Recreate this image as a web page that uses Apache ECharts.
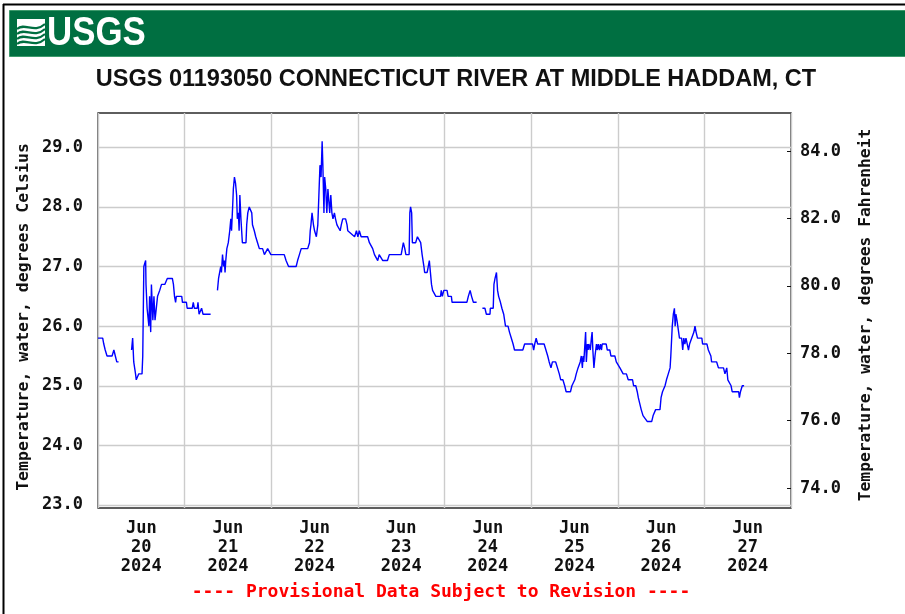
<!DOCTYPE html>
<html>
<head>
<meta charset="utf-8">
<script src="https://cdn.jsdelivr.net/npm/echarts@6/dist/echarts.min.js"></script>
<style>
html, body { margin: 0; padding: 0; background: #fff; }
#chart { width: 905px; height: 614px; }
</style>
</head>
<body>
<div id="chart"></div>
<script>
// hours since 2024-06-20 00:00, water temperature in deg C (null = gap in record)
const hours = [
  0.0, 1.3, 1.6, 2.0, 2.5, 3.0, 3.9, 4.4, 4.8, 5.2, 5.7, 7.0,
  9.3, 9.6, 9.9, 10.4, 10.6, 11.1, 11.3, 12.2, 12.4, 12.7, 13.2, 13.3, 13.6, 14.1, 14.3, 14.6, 14.8,
  15.2, 15.5, 15.8, 16.2, 16.5, 17.1, 17.6, 18.5, 19.2, 20.6, 20.9, 21.2, 21.5, 21.7, 23.2, 23.4,
  24.5, 24.7, 26.1, 26.4, 26.7, 27.1, 27.5, 27.7, 28.0, 28.7, 29.1, 31.2, 32.0,
  33.1, 33.4, 34.0, 34.2, 34.5, 34.8, 35.0, 35.2, 35.4, 35.7, 36.1, 36.3, 36.5, 36.8, 37.0, 37.3,
  37.5, 37.8, 38.1, 38.4, 38.6, 38.9, 39.1, 39.3, 39.6, 39.9, 40.0, 41.0, 41.2, 41.5, 41.9, 42.4,
  42.6, 42.8, 43.3, 43.7, 44.2, 44.7, 45.6, 46.1, 46.5, 47.0, 47.5, 47.9, 51.6, 52.1, 52.8, 54.9,
  55.3, 55.8, 56.3, 58.1, 58.6, 58.8, 59.0, 59.3, 59.7, 60.0, 60.5, 60.9, 61.2, 61.5, 61.8, 62.1,
  62.3, 62.6, 62.8, 63.1, 63.4, 63.7, 63.9, 64.2, 64.5, 64.8, 65.1, 65.5, 65.8, 66.2, 66.7, 67.1,
  67.4, 67.8, 68.6, 69.0, 69.2, 71.1, 71.6, 72.0, 72.4, 72.9, 74.7, 75.2, 75.7, 76.1, 76.6, 77.0,
  77.5, 77.9, 78.4, 78.9, 80.2, 80.7, 84.0, 84.3, 84.6, 85.0, 85.3, 86.2, 86.4, 86.6, 86.9, 87.1,
  88.0, 88.5, 88.9, 89.4, 89.8, 90.3, 90.5, 91.2, 91.5, 91.8, 92.1, 92.4, 92.7, 93.2, 93.6, 94.9,
  95.1, 95.4, 95.8, 96.2, 96.7, 97.0, 97.9, 98.1, 102.2, 102.6, 103.1, 103.5, 104.0, 104.9, 105.7,
  106.5, 107.2, 107.6, 108.6, 108.7, 109.5, 109.7, 110.0, 110.4, 110.7, 111.0, 111.5, 111.9, 112.4,
  112.9, 113.6, 114.0, 114.5, 115.0, 115.4, 117.7, 118.2, 120.4, 120.7, 121.0, 121.4, 121.8, 122.3,
  123.6, 124.1, 124.6, 125.0, 125.5, 125.9, 126.4, 126.8, 127.3, 127.8, 128.2, 128.8, 129.3, 129.7,
  130.9, 131.3, 131.8, 132.1, 132.5, 133.0, 133.2, 133.6, 133.9, 134.2, 134.4, 134.6, 134.8, 135.1,
  135.3, 135.6, 135.8, 136.0, 136.4, 136.7, 136.9, 137.1, 137.4, 137.7, 138.1, 138.3, 138.6, 138.9,
  139.2, 139.5, 139.7, 140.8, 141.1, 141.8, 142.1, 143.2, 143.6, 144.1, 144.6, 145.0, 145.5, 146.4,
  146.9, 148.1, 148.4, 149.0, 149.4, 149.7, 150.1, 150.5, 151.0, 151.5, 152.2, 153.4, 153.8, 154.5,
  155.7, 156.0, 156.4, 157.1, 157.5, 158.0, 158.5, 158.7, 159.1, 159.4, 159.7, 159.9, 160.1, 160.4,
  160.8, 161.1, 161.4, 161.7, 162.0, 162.3, 162.6, 162.9, 163.3, 163.6, 163.9, 164.2, 164.5, 164.8,
  165.1, 165.4, 165.7, 166.1, 166.6, 167.3, 167.5, 168.7, 169.1, 169.8, 170.0, 171.4, 171.9, 173.3,
  173.7, 174.2, 174.5, 174.9, 175.4, 175.7, 177.5, 177.7, 178.0, 178.5, 179.0
];
const tempC = [
  25.8, 25.8, 25.7, 25.6, 25.5, 25.5, 25.5, 25.6, 25.5, 25.4, 25.4, null,
  25.6, 25.8, 25.4, 25.2, 25.1, 25.1, 25.2, 25.2, 25.5, 27.0, 27.1, 26.7, 26.3, 26.0, 26.5, 25.9, 26.7,
  26.1, 26.5, 26.1, 26.1, 26.5, 26.6, 26.7, 26.7, 26.8, 26.8, 26.7, 26.5, 26.4, 26.5, 26.5, 26.4,
  26.4, 26.3, 26.3, 26.4, 26.3, 26.3, 26.3, 26.4, 26.2, 26.3, 26.2, 26.2, null,
  26.6, 26.8, 27.0, 26.9, 27.2, 27.0, 27.1, 26.9, 27.1, 27.3, 27.4, 27.4, 27.6, 27.8, 27.6, 28.0,
  28.3, 28.5, 28.4, 28.2, 27.8, 27.9, 27.6, 28.2, 27.8, 27.5, 27.4, 27.4, 27.7, 27.9, 28.0, 28.0,
  27.9, 27.7, 27.6, 27.5, 27.4, 27.3, 27.3, 27.2, 27.2, 27.3, 27.3, 27.2, 27.2, 27.1, 27.0, 27.0,
  27.1, 27.2, 27.3, 27.3, 27.4, 27.6, 27.7, 27.9, 27.7, 27.6, 27.5, 27.7, 28.2, 28.7, 28.5, 29.1,
  28.7, 27.9, 28.5, 28.3, 27.9, 28.3, 28.3, 27.9, 28.2, 27.9, 27.8, 27.9, 27.8, 27.7, 27.7, 27.6,
  27.7, 27.8, 27.8, 27.7, 27.6, 27.5, 27.6, 27.5, 27.6, 27.5, 27.5, 27.4, 27.4, 27.3, 27.2, 27.2,
  27.1, 27.2, 27.2, 27.1, 27.1, 27.2, 27.2, 27.3, 27.4, 27.3, 27.2, 27.2, 27.9, 28.0, 27.9, 27.4,
  27.4, 27.5, 27.5, 27.4, 27.2, 27.0, 26.9, 26.9, 27.0, 27.1, 26.9, 26.7, 26.6, 26.6, 26.5, 26.5,
  26.6, 26.5, 26.6, 26.6, 26.6, 26.5, 26.5, 26.4, 26.4, 26.5, 26.6, 26.5, 26.4, 26.4, null,
  26.3, 26.3, 26.2, 26.2, 26.3, 26.3, 26.7, 26.8, 26.9, 26.6, 26.5, 26.4, 26.3, 26.2,
  26.0, 26.0, 25.9, 25.8, 25.7, 25.6, 25.6, 25.7, 25.7, 25.6, 25.7, 25.8, 25.7, 25.7,
  25.7, 25.6, 25.5, 25.4, 25.3, 25.4, 25.4, 25.4, 25.3, 25.2, 25.1, 25.1, 25.0, 24.9,
  24.9, 25.0, 25.0, 25.1, 25.2, 25.3, 25.3, 25.4, 25.5, 25.3, 25.5, 25.4, 25.6, 25.9,
  25.4, 25.7, 25.6, 25.7, 25.6, 25.8, 25.9, 25.6, 25.3, 25.5, 25.7, 25.6, 25.7, 25.6,
  25.7, 25.6, 25.7, 25.7, 25.6, 25.6, 25.5, 25.5, 25.4, 25.4, 25.3, 25.3, 25.2, 25.2,
  25.1, 25.1, 25.0, 25.0, 24.9, 24.8, 24.7, 24.6, 24.5, 24.5, 24.4, 24.4, 24.5, 24.6,
  24.6, 24.8, 24.9, 25.0, 25.1, 25.2, 25.3, 25.5, 26.0, 26.2, 26.3, 26.0, 26.2, 26.1,
  26.1, 25.8, 25.8, 25.8, 25.6, 25.8, 25.7, 25.8, 25.8, 25.6, 25.7, 25.7, 25.8, 25.8,
  25.9, 26.0, 25.9, 25.8, 25.8, 25.8, 25.7, 25.7, 25.6, 25.5, 25.4, 25.4, 25.3, 25.3,
  25.2, 25.3, 25.1, 25.1, 25.0, 24.9, 24.9, 24.8, 24.9, 25.0, 25.0
];
const dayLabels = ['20', '21', '22', '23', '24', '25', '26', '27'];
const celsiusTicks = [23, 24, 25, 26, 27, 28, 29];
const fahrenheitTicks = [74, 76, 78, 80, 82, 84];

const HOUR = 3600000;
const DAY = 24 * HOUR;
const start = Date.UTC(2024, 5, 20);
const seriesData = hours.map((h, i) => [start + h * HOUR, tempC[i]]);
const labelNoons = dayLabels.map((d, i) => start + i * DAY + DAY / 2);

const mono = '"DejaVu Sans Mono", monospace';
const labelStyle = {
  fontFamily: mono,
  fontWeight: 'bold',
  fontSize: 17,
  color: '#111'
};
const gridLine = { color: '#cccccc', width: 1.4 };

const chart = echarts.init(document.getElementById('chart'));
chart.setOption({
  animation: false,
  backgroundColor: '#fff',
  grid: {
    left: 98,
    right: 114,
    top: 113,
    bottom: 106,
    containLabel: false,
    outerBoundsMode: 'none',
    show: true,
    borderColor: '#2a2a2a',
    borderWidth: 1.3
  },
  xAxis: {
    type: 'value',
    min: start,
    max: start + 8 * DAY,
    interval: DAY,
    axisLine: { show: false },
    axisTick: { show: false },
    splitLine: { show: true, lineStyle: gridLine },
    axisLabel: Object.assign({}, labelStyle, {
      customValues: labelNoons,
      lineHeight: 19,
      margin: 11,
      formatter: v => {
        const d = new Date(v);
        return 'Jun\n' + d.getUTCDate() + '\n' + d.getUTCFullYear();
      }
    })
  },
  yAxis: [
    {
      type: 'value',
      position: 'left',
      min: 22.95,
      max: 29.575,
      axisLine: { show: false },
      axisTick: { show: false, customValues: celsiusTicks },
      splitLine: { show: true, lineStyle: gridLine },
      axisLabel: Object.assign({}, labelStyle, {
        customValues: celsiusTicks,
        margin: 15,
        formatter: v => v.toFixed(1)
      })
    },
    {
      type: 'value',
      position: 'right',
      min: 73.41,
      max: 85.13,
      axisLine: { show: false },
      axisTick: {
        show: true,
        inside: true,
        length: 4,
        customValues: fahrenheitTicks,
        lineStyle: { color: '#111', width: 1 }
      },
      splitLine: { show: false },
      axisLabel: Object.assign({}, labelStyle, {
        customValues: fahrenheitTicks,
        margin: 9,
        formatter: v => v.toFixed(1)
      })
    }
  ],
  series: [
    {
      type: 'line',
      yAxisIndex: 0,
      data: seriesData,
      showSymbol: false,
      connectNulls: false,
      lineStyle: { color: '#0000ff', width: 1.4 },
      emphasis: { disabled: true }
    }
  ],
  graphic: [
    // page border (top and left)
    { type: 'line', shape: { x1: 3, y1: 4.5, x2: 905, y2: 4.5 }, style: { stroke: '#000', lineWidth: 2 } },
    { type: 'line', shape: { x1: 3.5, y1: 4, x2: 3.5, y2: 614 }, style: { stroke: '#000', lineWidth: 2 } },
    // green banner
    { type: 'rect', shape: { x: 9.5, y: 10.5, width: 900, height: 46 }, style: { fill: '#006f41', stroke: '#3d9a6c', lineWidth: 1 } },
    // logo mark
    { type: 'rect', shape: { x: 17, y: 19, width: 28, height: 27 }, style: { fill: '#fff' } },
    { type: 'bezierCurve', shape: { x1: 17, y1: 29, cpx1: 25, cpy1: 22, cpx2: 34, cpy2: 34, x2: 45, y2: 24 }, style: { stroke: '#006f41', lineWidth: 2.2, fill: null } },
    { type: 'bezierCurve', shape: { x1: 17, y1: 34, cpx1: 25, cpy1: 27, cpx2: 34, cpy2: 39, x2: 45, y2: 29 }, style: { stroke: '#006f41', lineWidth: 2.2, fill: null } },
    { type: 'bezierCurve', shape: { x1: 17, y1: 39, cpx1: 25, cpy1: 32, cpx2: 34, cpy2: 44, x2: 45, y2: 34 }, style: { stroke: '#006f41', lineWidth: 2.2, fill: null } },
    { type: 'bezierCurve', shape: { x1: 17, y1: 44, cpx1: 25, cpy1: 37, cpx2: 34, cpy2: 49, x2: 45, y2: 39 }, style: { stroke: '#006f41', lineWidth: 2.2, fill: null } },
    {
      type: 'text', x: 47, y: 34, scaleX: 0.85,
      style: { text: 'USGS', font: 'bold 41px "Liberation Sans", Arial, sans-serif', fill: '#fff', textAlign: 'left', textVerticalAlign: 'middle' }
    },
    // title
    {
      type: 'text', x: 456, y: 80,
      style: { text: 'USGS 01193050 CONNECTICUT RIVER AT MIDDLE HADDAM, CT', font: 'bold 23.5px "Liberation Sans", Arial, sans-serif', fill: '#111', textAlign: 'center', textVerticalAlign: 'middle' }
    },
    // axis names
    {
      type: 'text', x: 24, y: 317, rotation: Math.PI / 2,
      style: { text: 'Temperature, water, degrees Celsius', font: 'bold 16.5px ' + mono, fill: '#111', textAlign: 'center', textVerticalAlign: 'middle' }
    },
    {
      type: 'text', x: 866, y: 315, rotation: Math.PI / 2,
      style: { text: 'Temperature, water, degrees Fahrenheit', font: 'bold 16.3px ' + mono, fill: '#111', textAlign: 'center', textVerticalAlign: 'middle' }
    },
    // footer
    {
      type: 'text', x: 441, y: 592,
      style: { text: '---- Provisional Data Subject to Revision ----', font: 'bold 18px ' + mono, fill: '#ff0000', textAlign: 'center', textVerticalAlign: 'middle' }
    }
  ]
});
</script>
</body>
</html>
